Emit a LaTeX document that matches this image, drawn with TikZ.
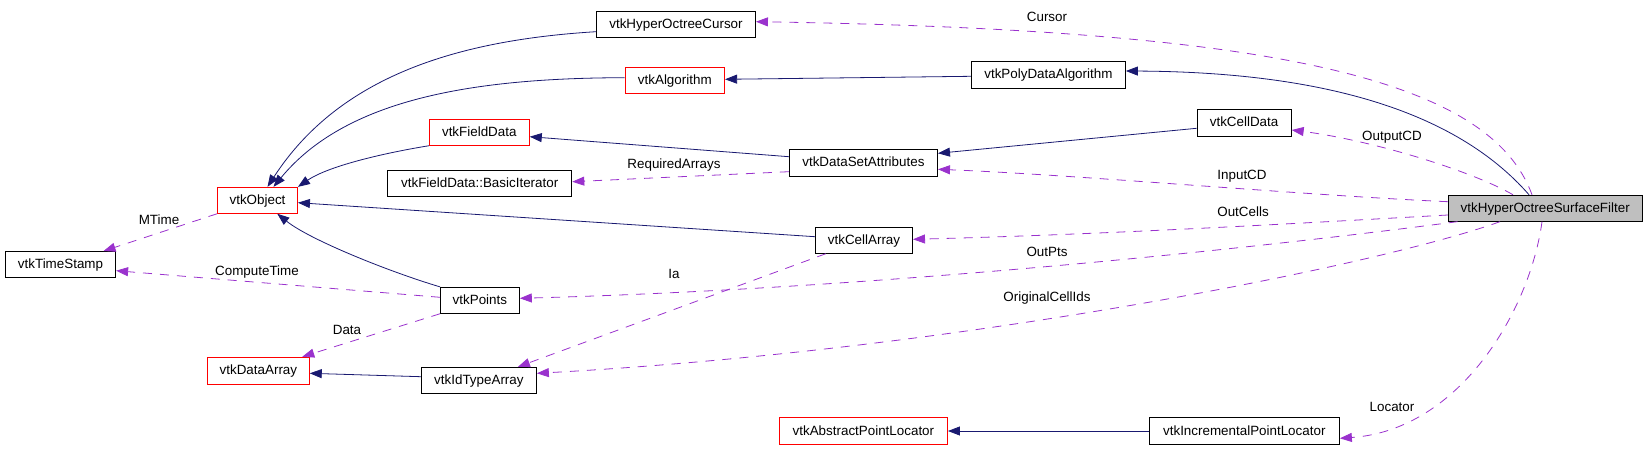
\documentclass[tikz,border=0pt]{standalone}
\usepackage{fontspec}
\setmainfont{Liberation Sans}
\usetikzlibrary{arrows.meta}

\definecolor{inhblue}{RGB}{25,25,112}
\definecolor{usepurple}{RGB}{154,50,205}
\definecolor{boxgray}{RGB}{191,191,191}

\begin{document}
\begin{tikzpicture}[x=1pt, y=-1pt,
		every node/.style={font=\fontsize{13.4}{16}\selectfont, text height=11pt, text depth=3pt},
		cls/.style={draw=black, line width=0.9pt, minimum height=26pt, inner sep=0pt},
		ext/.style={cls, draw=red},
		main/.style={cls, fill=boxgray},
		inh/.style={inhblue, line width=0.8pt, -{Triangle[length=12pt,width=9pt]}},
		use/.style={usepurple, line width=0.8pt, dash pattern=on 9pt off 8pt, -{Triangle[length=12pt,width=9pt]}},
		lbl/.style={inner sep=0pt}]
		\useasboundingbox (0,0) rectangle (1648,452);

		% Draw classes
		\node[cls, minimum width=159pt] (cursor) at (676,24.3) {vtkHyperOctreeCursor};
		\node[ext, minimum width=99.6pt] (algo) at (674.8,80.3) {vtkAlgorithm};
		\node[cls, minimum width=154pt, minimum height=27pt] (pda) at (1048.4,74.8) {vtkPolyDataAlgorithm};
		\node[ext, minimum width=100pt] (fielddata) at (479.3,132.3) {vtkFieldData};
		\node[cls, minimum width=184.3pt] (iterator) at (479.7,183) {vtkFieldData::BasicIterator};
		\node[ext, minimum width=80pt] (object) at (257.5,200.3) {vtkObject};
		\node[cls, minimum width=148.2pt, minimum height=27pt] (dsa) at (863.4,162.8) {vtkDataSetAttributes};
		\node[cls, minimum width=94.2pt, minimum height=27pt] (celldata) at (1244.1,122.8) {vtkCellData};
		\node[main, minimum width=193.6pt] (filter) at (1545.2,208.2) {vtkHyperOctreeSurfaceFilter};
		\node[cls, minimum width=110.3pt] (timestamp) at (60.5,264.5) {vtkTimeStamp};
		\node[cls, minimum width=78.9pt] (points) at (479.9,300.3) {vtkPoints};
		\node[ext, minimum width=101.8pt, minimum height=27pt] (dataarray) at (258.4,370.7) {vtkDataArray};
		\node[cls, minimum width=115pt] (idtype) at (478.9,380.3) {vtkIdTypeArray};
		\node[cls, minimum width=97.1pt] (cellarray) at (864,240.3) {vtkCellArray};
		\node[ext, minimum width=168.2pt, minimum height=26.6pt] (apl) at (863.4,431) {vtkAbstractPointLocator};
		\node[cls, minimum width=190.2pt, minimum height=26.6pt] (ipl) at (1244.3,431) {vtkIncrementalPointLocator};

		% Draw inheritance
		\draw[inh] ([yshift=-7.4pt]cursor.west) .. controls (460,40) and (340,75) .. ([xshift=10pt]object.north);
		\draw[inh] ([yshift=2.6pt]algo.west) .. controls (470,78) and (345,100) .. ([xshift=16pt]object.north);
		\draw[inh] (fielddata.south west) .. controls (390,152) and (330,165) .. (object.north east);
		\draw[inh] ([yshift=3.6pt]cellarray.west) -- ([yshift=-2.4pt]object.east);
		\draw[inh] (points.north west) .. controls (390,272) and (310,240) .. ([xshift=19.8pt]object.south);
		\draw[inh] ([yshift=-1.5pt]pda.west) -- ([yshift=1pt]algo.east);
		\draw[inh] ([yshift=6.1pt]dsa.west) -- ([yshift=-4.4pt]fielddata.east);
		\draw[inh] ([yshift=-5.5pt]celldata.west) -- ([yshift=9.5pt]dsa.east);
		\draw[inh] ([xshift=-16.2pt]filter.north) .. controls (1455,110) and (1320,72) .. ([yshift=3.8pt]pda.east);
		\draw[inh] ([yshift=3.6pt]idtype.west) -- ([yshift=-2.6pt]dataarray.east);
		\draw[inh] (ipl.west) -- (apl.east);

		% Draw usage
		\draw[use] ([xshift=-13.2pt]filter.north) .. controls (1490,80) and (1280,30) .. ([yshift=2.6pt]cursor.east);
		\draw[use] ([xshift=-32.2pt]filter.north) .. controls (1470,170) and (1370,140) .. ([yshift=-7.2pt]celldata.east);
		\draw[use] ([yshift=6.5pt]filter.west) .. controls (1300,195) and (1080,175) .. ([yshift=-6.5pt]dsa.east);
		\draw[use] ([yshift=-6.8pt]filter.west) .. controls (1320,222) and (1120,234) .. ([yshift=1pt]cellarray.east);
		\draw[use] ([xshift=9.6pt]filter.south west) .. controls (1280,245) and (900,288) .. ([yshift=2pt]points.east);
		\draw[use] ([xshift=-45.2pt]filter.south) .. controls (1380,265) and (960,350) .. ([yshift=7pt]idtype.east);
		\draw[use] ([xshift=-3.2pt]filter.south) .. controls (1530,310) and (1460,430) .. ([yshift=-7.3pt]ipl.east);
		\draw[use] ([xshift=-38.3pt]cellarray.south) -- ([xshift=39pt]idtype.north);
		\draw[use] ([yshift=-8.9pt]dsa.west) -- ([yshift=1.3pt]iterator.east);
		\draw[use] (object.south west) -- ([xshift=43pt]timestamp.north);
		\draw[use] ([yshift=3pt]points.west) -- ([yshift=-6.2pt]timestamp.east);
		\draw[use] (points.south west) -- ([xshift=-7.5pt]dataarray.north east);

		% Labels
		\node[lbl] (cursorlbl) at (1047,18) {Cursor};
		\node[lbl] (outputlbl) at (1392,136) {OutputCD};
		\node[lbl] (inputlbl) at (1242,175) {InputCD};
		\node[lbl] (cellslbl) at (1243,212) {OutCells};
		\node[lbl] (ptslbl) at (1047,252) {OutPts};
		\node[lbl] (idslbl) at (1047,297) {OriginalCellIds};
		\node[lbl] (locatorlbl) at (1392,407) {Locator};
		\node[lbl] (ialbl) at (674,274) {Ia};
		\node[lbl] (arrayslbl) at (674,164) {RequiredArrays};
		\node[lbl] (mtimelbl) at (159,220) {MTime};
		\node[lbl] (computelbl) at (257,271) {ComputeTime};
		\node[lbl] (datalbl) at (347,330) {Data};
	\end{tikzpicture}
\end{document}
